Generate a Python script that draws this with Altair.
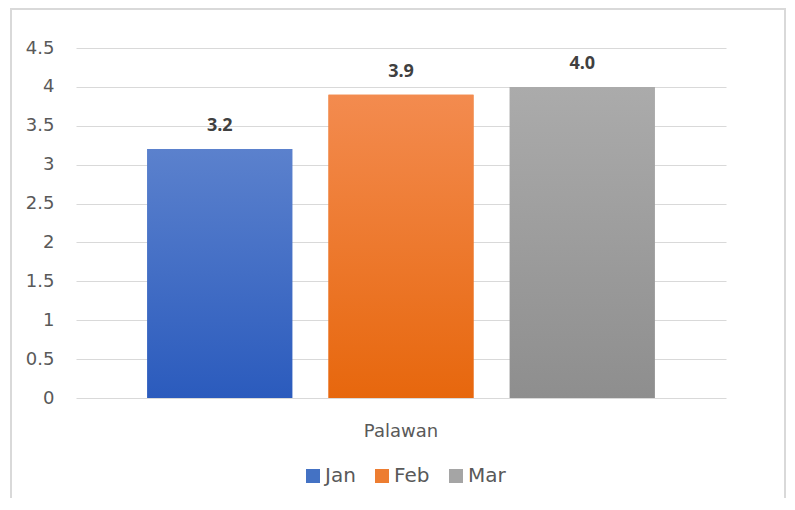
import altair as alt
import pandas as pd

regions = ["Palawan", "Palawan", "Palawan"]
months = ["Jan", "Feb", "Mar"]
values = [3.2, 3.9, 4.0]
labels = ["3.2", "3.9", "4.0"]
solid_colors = ["#4472C4", "#ED7D31", "#A5A5A5"]
grad_top = ["#5b81cd", "#f38b4f", "#ababab"]
grad_bottom = ["#2b5bbd", "#e7670d", "#8e8e8e"]
y_ticks = [0, 0.5, 1, 1.5, 2, 2.5, 3, 3.5, 4, 4.5]

df = pd.DataFrame({"region": regions, "month": months, "value": values, "label": labels})

AXIS_FONT = "DejaVu Sans"
VALUE_FONT = "Open Sans"

x_enc = alt.X("region:N", title=None,
              scale=alt.Scale(paddingInner=0, paddingOuter=0.0977),
              axis=alt.Axis(labelAngle=0, domain=False, ticks=False, grid=False, labelPadding=24,
                            labelFontSize=18, labelColor="#595959", labelFont=AXIS_FONT))
xo_enc = alt.XOffset("month:N", sort=months,
                     scale=alt.Scale(paddingInner=0.2, paddingOuter=0.1))
y_enc = alt.Y("value:Q", title=None,
              scale=alt.Scale(domain=[0, 4.5], nice=False),
              axis=alt.Axis(values=y_ticks, domain=False, ticks=False, labelPadding=22,
                            labelFontSize=18, labelColor="#595959", labelFont=AXIS_FONT,
                            gridColor="#d9d9d9", gridWidth=1.2, labelExpr="datum.value"))

frame = alt.Chart(df).mark_rect(fill="transparent", stroke="#d9d9d9", strokeWidth=2).encode(
    x=alt.value(-65), x2=alt.value(709), y=alt.value(-39), y2=alt.value(480)
)

base = alt.Chart(df).mark_bar().encode(
    x=x_enc, xOffset=xo_enc, y=y_enc,
    color=alt.Color("month:N", sort=months,
                    scale=alt.Scale(domain=months, range=solid_colors),
                    legend=alt.Legend(title=None, orient="none", direction="horizontal",
                                      legendX=227, legendY=418, symbolType="square",
                                      symbolSize=196, symbolStrokeWidth=0,
                                      labelFontSize=20, labelColor="#595959", labelFont=AXIS_FONT,
                                      columnPadding=16, labelOffset=2))
)

grad_layers = []
for m, top, bot in zip(months, grad_top, grad_bottom):
    g = alt.Gradient(gradient="linear", x1=0, y1=0, x2=0, y2=1,
                     stops=[alt.GradientStop(offset=0, color=top),
                            alt.GradientStop(offset=1, color=bot)])
    grad_layers.append(
        alt.Chart(df).transform_filter(alt.datum.month == m).mark_bar(fill=g).encode(
            x=x_enc, xOffset=xo_enc, y=y_enc
        )
    )

text = alt.Chart(df).mark_text(dy=-23, fontSize=18, fontWeight="bold", color="#404040",
                               font=VALUE_FONT).encode(
    x=x_enc, xOffset=xo_enc, y=y_enc, text="label:N"
)

chart = alt.layer(frame, base, *grad_layers, text).properties(
    width=650, height=350,
    background="white",
    autosize=alt.AutoSizeParams(type="none"),
    padding={"left": 68, "top": 40, "right": 61, "bottom": 100},
).configure_view(strokeWidth=0, stroke="transparent")

chart.save("out.html", embed_options={"renderer": "svg", "actions": False})
